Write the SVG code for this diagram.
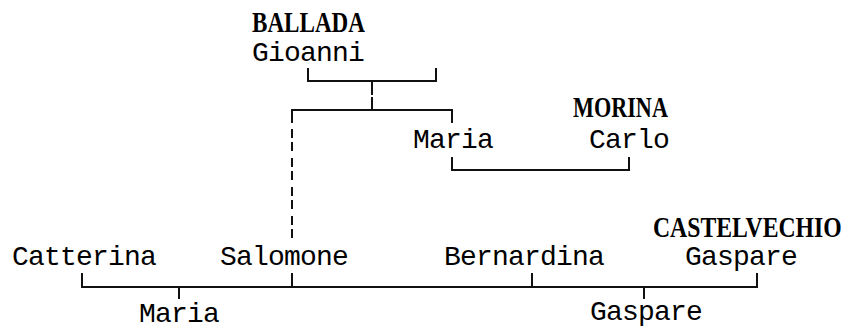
<svg xmlns="http://www.w3.org/2000/svg" width="848" height="330" viewBox="0 0 848 330">
<style>
text{font-family:"Liberation Mono","DejaVu Sans Mono",monospace;font-size:28px;letter-spacing:-0.8px;fill:#000}
.sur{font-family:"Liberation Serif","DejaVu Serif",serif;font-size:30px;font-weight:bold;letter-spacing:0}
.ln{fill:none;stroke:#111;stroke-width:2}
.dash{stroke-dasharray:9 4 9 7}
</style>
<rect width="848" height="330" fill="#fff"/>
<g id="connectors">
<path class="ln" d="M308,68 V81 H436 V68"/>
<path class="ln" d="M372,81 V95 M372,97 V110"/>
<path class="ln" d="M292,123 V110 H452 V123"/>
<path class="ln dash" d="M292,129 V239"/>
<path class="ln" d="M452,157 V170 H629 V157"/>
<path class="ln" d="M82,273 V287 H757 V273 M292,273 V287 M532,273 V287 M179,287 V299 M644,287 V299"/>
</g>
<g id="n-ballada-gioanni"><text class="sur" transform="translate(252,32) scale(0.77,1)">BALLADA</text><text x="252" y="61">Gioanni</text></g>
<g id="n-maria-1"><text x="413" y="148">Maria</text></g>
<g id="n-morina-carlo"><text class="sur" transform="translate(573,117) scale(0.74,1)">MORINA</text><text x="589" y="148">Carlo</text></g>
<g id="n-catterina"><text x="12" y="265">Catterina</text></g>
<g id="n-salomone"><text x="220" y="265">Salomone</text></g>
<g id="n-bernardina"><text x="444" y="265">Bernardina</text></g>
<g id="n-castelvechio-gaspare"><text class="sur" transform="translate(653,237) scale(0.79,1)">CASTELVECHIO</text><text x="685" y="265">Gaspare</text></g>
<g id="n-maria-2"><text x="139" y="322">Maria</text></g>
<g id="n-gaspare-2"><text x="590" y="320">Gaspare</text></g>
</svg>
